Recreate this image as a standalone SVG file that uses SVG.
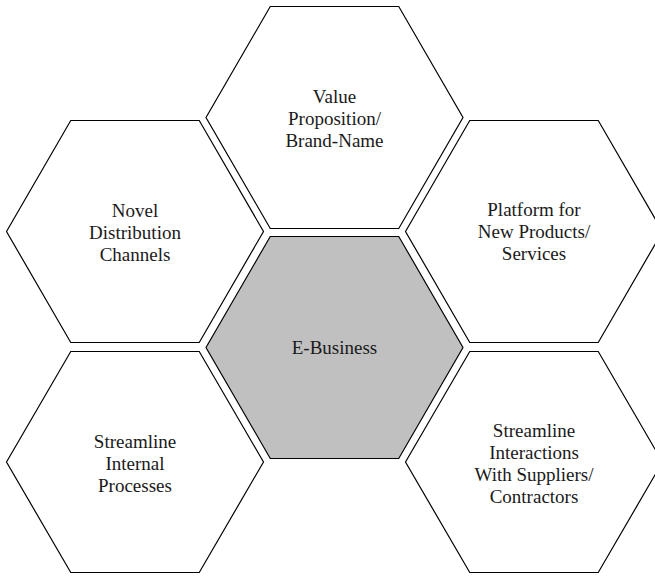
<svg xmlns="http://www.w3.org/2000/svg" width="655" height="576" viewBox="0 0 655 576">
<style>
.hex{fill:#ffffff;stroke:#000000;stroke-width:1.2;stroke-linejoin:miter}
.core{fill:#c0c0c0}
.lbl{font-family:"Liberation Serif","Times New Roman",serif;font-size:19px;fill:#1a1a1a;text-anchor:middle}
</style>
<rect width="655" height="576" fill="#ffffff"/>
<g id="connectors"></g>
<g id="value">
<polygon class="hex" points="206,117.5 270.25,6.5 398.75,6.5 463,117.5 398.75,228.5 270.25,228.5"/>
<text class="lbl" x="334.5" y="102.5">Value</text>
<text class="lbl" x="334.5" y="124.5">Proposition/</text>
<text class="lbl" x="334.5" y="146.5">Brand-Name</text>
</g>
<g id="ebusiness">
<polygon class="hex core" points="206,347.5 270.25,236.5 398.75,236.5 463,347.5 398.75,458.5 270.25,458.5"/>
<text class="lbl" x="334.5" y="353.5">E-Business</text>
</g>
<g id="distribution">
<polygon class="hex" points="6.5,231.5 70.75,120.5 199.25,120.5 263.5,231.5 199.25,342.5 70.75,342.5"/>
<text class="lbl" x="135" y="216.5">Novel</text>
<text class="lbl" x="135" y="238.5">Distribution</text>
<text class="lbl" x="135" y="260.5">Channels</text>
</g>
<g id="platform">
<polygon class="hex" points="405.5,231.5 469.75,120.5 598.25,120.5 662.5,231.5 598.25,342.5 469.75,342.5"/>
<text class="lbl" x="534" y="216">Platform for</text>
<text class="lbl" x="534" y="238">New Products/</text>
<text class="lbl" x="534" y="260">Services</text>
</g>
<g id="internal">
<polygon class="hex" points="6.5,462 70.75,351.5 199.25,351.5 263.5,462 199.25,572.5 70.75,572.5"/>
<text class="lbl" x="135" y="447.5">Streamline</text>
<text class="lbl" x="135" y="469.5">Internal</text>
<text class="lbl" x="135" y="491.5">Processes</text>
</g>
<g id="suppliers">
<polygon class="hex" points="405.5,462 469.75,351.5 598.25,351.5 662.5,462 598.25,572.5 469.75,572.5"/>
<text class="lbl" x="534" y="437">Streamline</text>
<text class="lbl" x="534" y="459">Interactions</text>
<text class="lbl" x="534" y="481">With Suppliers/</text>
<text class="lbl" x="534" y="503">Contractors</text>
</g>
</svg>
